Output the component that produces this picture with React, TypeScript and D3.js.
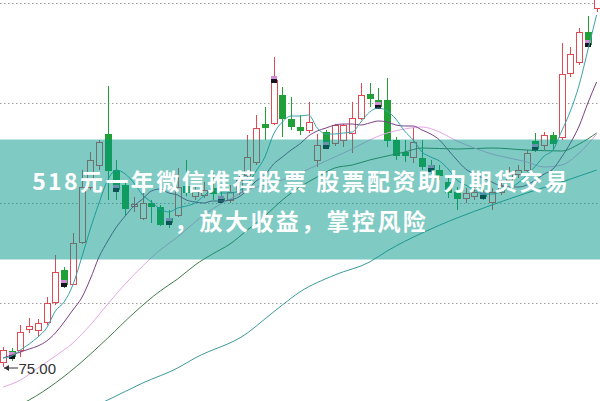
import React from 'react';
import * as d3 from 'd3';

// Candles (price units)
const opens = [75.5,76.6,76.7,78.8,78.7,79.5,81.5,84.7,83.3,87.5,93.0,95.2,98.3,94.7,93.2,91.1,89.9,91.4,91.0,89.9,90.2,93.1,92.1,92.2,92.9,91.9,91.7,92.5,94.2,95.5,99.3,99.4,102.2,99.8,99.0,98.7,95.7,98.5,97.4,97.7,98.4,99.9,102.3,101.7,101.7,97.7,96.5,96.0,95.9,95.2,94.7,93.5,92.5,91.9,92.1,92.3,91.5,92.5,93.7,94.3,94.7,97.6,97.2,98.2,98.0,104.4,105.5,108.5,110.9];
const highs = [77.0,76.9,79.2,79.9,79.8,82.0,86.2,85.0,88.4,94.7,96.5,97.7,103.1,95.7,93.4,92.0,92.4,91.7,91.2,90.7,94.9,95.7,93.2,93.5,94.4,92.5,93.2,94.7,98.2,100.2,101.0,106.0,103.0,102.0,100.2,101.5,98.3,98.7,99.3,99.3,101.5,103.4,103.4,102.9,103.9,98.0,97.7,99.0,97.7,95.7,95.2,93.9,93.0,92.9,93.2,92.7,92.9,93.7,95.0,95.2,96.7,98.4,98.5,98.5,107.4,107.0,108.9,110.1,113.2];
const lows = [75.0,75.6,76.0,78.4,78.1,79.2,81.2,82.9,83.2,87.3,92.7,94.7,91.7,91.7,90.2,90.5,89.7,89.4,89.1,88.9,90.0,92.1,91.7,91.9,91.7,91.4,91.4,92.2,93.9,95.2,97.7,99.2,98.0,98.7,98.2,98.4,95.0,96.9,97.1,97.0,96.4,99.7,101.0,100.9,97.0,95.7,95.5,95.4,94.7,94.3,93.7,91.9,90.7,91.4,91.7,91.7,90.7,92.2,93.5,93.9,94.5,96.5,96.7,96.7,97.7,104.0,105.2,107.0,110.5];
const closes = [76.7,76.1,78.5,79.1,79.4,81.4,84.5,83.3,87.4,93.0,95.7,97.5,94.7,92.8,90.9,91.3,91.4,91.1,89.3,89.5,93.0,92.5,92.7,92.7,92.4,91.7,92.5,93.7,96.0,98.9,99.0,103.7,99.9,99.1,98.7,99.5,97.2,97.1,99.2,99.2,99.9,102.2,101.9,101.1,97.7,96.2,96.2,97.5,95.1,94.8,94.2,92.5,91.9,92.4,92.5,92.1,92.5,93.2,94.3,94.7,96.4,96.9,98.2,97.4,104.3,106.3,108.5,107.3,112.2];

// Moving averages
const ma5 = [75.9,76.1,76.7,77.3,78.0,78.9,80.6,81.5,83.2,85.9,88.8,91.4,93.7,94.7,94.3,93.4,92.2,91.5,90.8,90.5,90.9,91.1,91.4,92.1,92.7,92.4,92.4,92.6,93.3,94.6,96.0,98.3,99.5,100.1,100.1,100.2,98.9,98.3,98.3,98.4,98.5,99.5,100.5,100.9,100.6,99.8,98.6,97.7,96.5,96.0,95.6,94.8,93.7,93.2,92.7,92.3,92.3,92.5,92.9,93.4,94.2,95.1,96.1,96.7,98.6,100.6,103.2,106.7,110.2];
const ma10 = [75.9,76.2,76.5,76.8,77.1,77.6,78.4,79.5,80.7,81.9,83.8,86.0,87.6,89.0,90.1,91.1,91.8,92.6,92.8,92.4,92.2,91.7,91.5,91.4,91.6,91.6,91.7,92.0,92.7,93.6,94.2,95.3,96.0,96.7,97.3,98.1,98.6,98.9,99.2,99.3,99.3,99.2,99.4,99.6,99.5,99.2,99.1,99.1,98.7,98.3,97.7,96.7,95.7,94.8,94.3,93.9,93.5,93.1,93.0,93.0,93.2,93.7,94.3,94.8,96.0,97.4,99.1,101.4,103.5];
const ma20Idx = [0,2,4,6,8,10,12,14,16,18,20,22,24,26,28,30,32,34,36,38,40,42,44,46,48,50,52,54,56,58,60,62,64,66,68];
const ma20 = [73.0,73.7,74.9,76.1,77.4,79.2,81.3,83.3,85.1,86.7,88.0,89.5,90.8,91.8,92.7,93.2,93.7,94.4,95.2,96.0,96.8,97.7,98.4,98.8,99.0,98.5,97.6,96.9,96.3,95.9,95.5,95.0,95.2,96.4,98.3];
const ma30Idx = [0,3,6,9,12,15,18,20,22,24,26,28,30,32,34,36,38,40,42,44,46,48,52,56,60,64,66,68];
const ma30 = [70.5,71.7,73.4,75.5,77.9,80.4,82.6,83.8,85.2,86.3,87.3,88.7,90.1,91.7,93.0,94.0,94.9,95.2,95.7,96.1,96.5,96.9,96.8,96.9,96.7,96.6,97.3,98.4];
const ma60Idx = [10,12,16,20,22,28,30,32,34,38,42,44,48,52,56,60,64,68];
const ma60 = [70.9,71.7,73.4,74.9,75.9,78.4,79.8,81.2,82.5,84.2,85.5,86.6,88.4,89.9,91.2,92.4,93.5,94.7];

const markerIdx = [1,7,13,19,25,31,37,43,49,55,61,67];
const gridValues = [81.43, 91.43, 101.43, 111.43];
const bannerLines = ['518元一年微信推荐股票 股票配资助力期货交易', '，放大收益，掌控风险'];

const W = 600, H = 401;
const UP = '#e04a52', DOWN = '#21a038';

export default function App() {
  const n = closes.length;
  const x = d3.scaleLinear().domain([0, n - 1]).range([3, 596.6]);
  const y = d3.scaleLinear().domain([75, 111.7]).range([367, 0]);
  const px = (i: number) => Math.round(x(i)) + 0.5;

  const line = (vals: number[], idx?: number[]) =>
    d3.line<number>()
      .x((_, k) => x(idx ? idx[k] : k))
      .y(v => y(v))
      .curve(d3.curveMonotoneX)(vals) || '';

  const minLow = d3.min(lows) as number;
  const minI = lows.indexOf(minLow);
  const ly = y(minLow) + 1;

  return (
    <svg width={W} height={H} style={{ position: 'absolute', left: 0, top: 0, background: '#fff' }}>
      <rect x={0} y={0} width={W} height={H} fill="#fff" />
      {gridValues.map((g, k) => (
        <line key={k} x1={0} x2={W} y1={Math.round(y(g)) + 0.5} y2={Math.round(y(g)) + 0.5}
          stroke="#9a9a9a" strokeWidth={1} strokeDasharray="1.5,2.5" />
      ))}
      {closes.map((c, i) => {
        const o = opens[i];
        const up = c >= o;
        const col = up ? UP : DOWN;
        const cx = px(i);
        const top = Math.round(y(Math.max(o, c))) + 0.5;
        const bot = Math.round(y(Math.min(o, c))) + 0.5;
        return (
          <g key={i}>
            <line x1={cx} x2={cx} y1={y(highs[i])} y2={y(lows[i])} stroke={col} strokeWidth={1} />
            <rect x={cx - 3} y={top} width={6} height={Math.max(1, bot - top)}
              fill={up ? '#fff' : col} stroke={col} strokeWidth={1} />
          </g>
        );
      })}
      {markerIdx.map(i => {
        const cx = Math.round(x(i));
        const cy = Math.round(y(closes[i]));
        return (
          <g key={'m' + i}>
            <rect x={cx - 3} y={cy - 4} width={6} height={3} fill="#d68bd6" />
            <rect x={cx - 3} y={cy - 1} width={6} height={4} fill="#151520" />
          </g>
        );
      })}
      <path d={line(ma60, ma60Idx)} fill="none" stroke="#3a9a9c" strokeWidth={1} />
      <path d={line(ma30, ma30Idx)} fill="none" stroke="#3f7c4a" strokeWidth={1} />
      <path d={line(ma20, ma20Idx)} fill="none" stroke="#e6a6e6" strokeWidth={1} />
      <path d={line(ma10)} fill="none" stroke="#7d3f84" strokeWidth={1} />
      <path d={line(ma5)} fill="none" stroke="#3aa3aa" strokeWidth={1} />

      <g>
        <line x1={x(minI) + 1} x2={x(minI) + 15} y1={ly} y2={ly} stroke="#333" strokeWidth={1} />
        <path d={`M${x(minI) + 1},${ly} l5,-3 l0,6 z`} fill="#333" />
        <text x={x(minI) + 15.5} y={ly + 6} fontFamily="'Liberation Sans', Arial, sans-serif" fontSize={15} fill="#333">
          {d3.format('.2f')(minLow)}
        </text>
      </g>

      <rect x={0} y={139.5} width={W} height={120} fill="rgba(0,150,136,0.5)" />
      {bannerLines.map((t, k) => (
        <text key={k} x={W / 2 + 1.2} y={190 + k * 40} textAnchor="middle"
          fontFamily="'Noto Sans CJK SC', 'Noto Sans', sans-serif" fontWeight={700}
          fontSize={23} letterSpacing={2.4} fill="#fff">{t}</text>
      ))}
    </svg>
  );
}
